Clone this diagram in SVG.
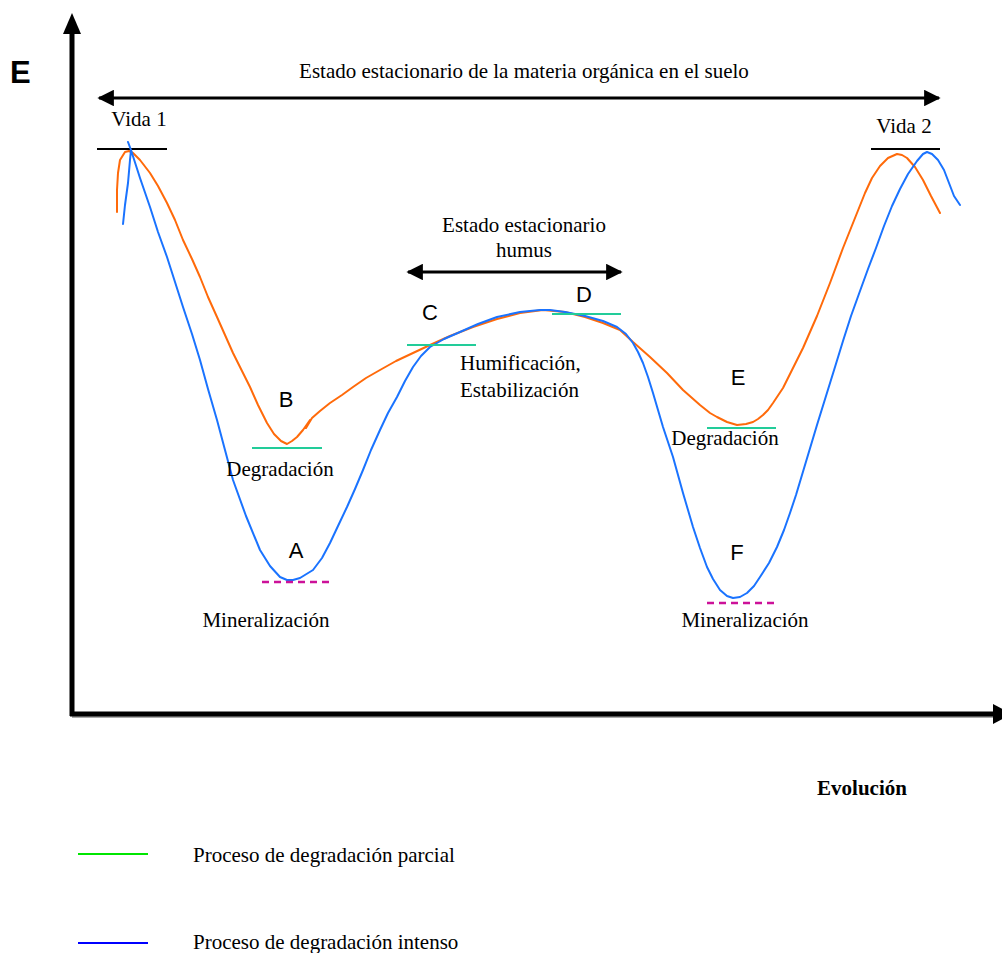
<svg xmlns="http://www.w3.org/2000/svg" width="1002" height="953" viewBox="0 0 1002 953">
<style>
.t{font-family:"Liberation Serif","Times New Roman",serif;font-size:21px;fill:#000}
.l{font-family:"Liberation Sans",Arial,sans-serif;font-size:22px;fill:#000}
.c{fill:none;stroke-width:2;stroke-linejoin:round;stroke-linecap:round}
.or{stroke:#ff6a0a}
.bl{stroke:#1a73ff}
.tq{stroke:#22cc99;stroke-width:2}
.mg{stroke:#cc1199;stroke-width:2.6;stroke-dasharray:7,5}
.ax{stroke:#000;fill:none}
</style>
<defs>
<marker id="ah" viewBox="0 0 10 10" refX="9" refY="5" markerWidth="5.5" markerHeight="5.5" orient="auto-start-reverse" markerUnits="strokeWidth">
<path d="M0,0 L10,5 L0,10 z" fill="#000"/>
</marker>
</defs>
<rect width="1002" height="953" fill="#fff"/>

<g id="axes">
<line x1="72" y1="716" x2="72" y2="30" stroke="#000" stroke-width="5"/>
<polygon points="72,13 63,34 81,34" fill="#000"/>
<line x1="72" y1="717" x2="1002" y2="717" stroke="#aaa" stroke-width="2"/>
<line x1="70" y1="714" x2="996" y2="714" stroke="#000" stroke-width="5"/>
<polygon points="1012,714 993,704 993,724" fill="#000"/>
<text x="10" y="83" style="font-family:'Liberation Sans',Arial,sans-serif;font-size:31px;font-weight:bold">E</text>
<text x="862" y="795" text-anchor="middle" style="font-family:'Liberation Serif','Times New Roman',serif;font-size:21px;font-weight:bold">Evolución</text>
</g>

<g id="connectors">
<line class="ax" x1="99" y1="98" x2="939" y2="98" stroke-width="3" marker-start="url(#ah)" marker-end="url(#ah)"/>
<line class="ax" x1="408" y1="272" x2="621" y2="272" stroke-width="3" marker-start="url(#ah)" marker-end="url(#ah)"/>
</g>

<g id="title">
<text class="t" x="524" y="78" text-anchor="middle">Estado estacionario de la materia orgánica en el suelo</text>
</g>

<g id="vida1">
<text class="t" x="139" y="126" text-anchor="middle">Vida 1</text>
<line x1="97" y1="149" x2="167" y2="149" stroke="#000" stroke-width="2"/>
</g>
<g id="vida2">
<text class="t" x="904" y="133" text-anchor="middle">Vida 2</text>
<line x1="871" y1="149" x2="940" y2="149" stroke="#000" stroke-width="2"/>
</g>

<g id="humus">
<text class="t" x="524" y="232" text-anchor="middle">Estado estacionario</text>
<text class="t" x="524" y="257" text-anchor="middle">humus</text>
</g>

<g id="curve-orange">
<polyline class="c or" points="117,212 117,190 118,173 120,160 125,152 129,151 133,153 140,160 150,173 158,186 167,203 175,220 183,240 192,259 200,277 208,297 217,317 225,335 233,353 242,371 250,387 258,405 267,423 274,434 281,441 287,444 292,441 297,437 303,430 310,420 306,428 312,418 320,411 330,403 342,395 353,387 366,378 380,370 396,361 413,353 430,345 450,336 473,327 497,319 520,313 543,310 565,312 585,317 603,323 620,330 633,342 650,357 667,373 683,390 700,405 710,413 717,417 727,422 737,425 746,424 753,422 758,419 763,415 768,410 773,403 783,388 792,370 803,348 817,316 830,283 843,248 857,213 865,193 872,178 880,166 888,158 897,154 902,155 907,158 915,167 923,180 931,196 940,213"/>
</g>

<g id="curve-blue">
<polyline class="c bl" points="123,224 125,205 128,183 130,160 131,150 128,142 131,150 140,178 150,207 158,232 167,257 175,282 183,307 192,334 200,360 208,389 217,420 225,450 233,480 246,516 260,550 270,566 280,577 287,580 293,580 300,578 313,570 322,558 330,543 338,526 347,507 355,489 363,470 371,450 380,430 388,413 397,397 405,381 413,367 421,356 430,347 444,339 460,332 478,324 497,317 520,312 540,310 550,310 565,312 585,316 603,321 617,327 626,334 633,343 638,352 643,363 648,377 653,393 658,410 663,427 668,442 673,457 678,475 683,493 688,510 693,527 700,548 707,567 713,579 720,590 727,596 733,598 740,597 747,593 754,586 760,577 769,563 777,547 784,530 790,513 796,495 802,475 808,455 817,425 826,396 835,367 843,341 851,316 860,291 868,269 876,248 884,226 892,206 900,189 908,174 917,161 923,154 927,152 932,154 938,160 944,170 949,183 954,196 960,205"/>
</g>

<g id="B">
<text class="l" x="286" y="407" text-anchor="middle">B</text>
<line class="tq" x1="252" y1="448" x2="322" y2="448"/>
<text class="t" x="280" y="476" text-anchor="middle">Degradación</text>
</g>
<g id="A">
<text class="l" x="296" y="558" text-anchor="middle">A</text>
<line class="mg" x1="262" y1="582" x2="331" y2="582"/>
<text class="t" x="266" y="627" text-anchor="middle">Mineralización</text>
</g>
<g id="C">
<text class="l" x="430" y="320" text-anchor="middle">C</text>
<line class="tq" x1="407" y1="345" x2="476" y2="345"/>
</g>
<g id="D">
<text class="l" x="584" y="302" text-anchor="middle">D</text>
<line class="tq" x1="552" y1="314" x2="621" y2="314"/>
<text class="t" x="460" y="370">Humificación,</text>
<text class="t" x="460" y="397">Estabilización</text>
</g>
<g id="E-node">
<text class="l" x="738" y="385" text-anchor="middle">E</text>
<line class="tq" x1="707" y1="428" x2="776" y2="428"/>
<text class="t" x="725" y="445" text-anchor="middle">Degradación</text>
</g>
<g id="F">
<text class="l" x="737" y="560" text-anchor="middle">F</text>
<line class="mg" x1="707" y1="603" x2="776" y2="603"/>
<text class="t" x="745" y="627" text-anchor="middle">Mineralización</text>
</g>

<g id="legend">
<line x1="78" y1="854" x2="148" y2="854" stroke="#00e600" stroke-width="2"/>
<text class="t" x="193" y="862">Proceso de degradación parcial</text>
<line x1="78" y1="943" x2="148" y2="943" stroke="#0000ff" stroke-width="2"/>
<text class="t" x="193" y="949">Proceso de degradación intenso</text>
</g>
</svg>
